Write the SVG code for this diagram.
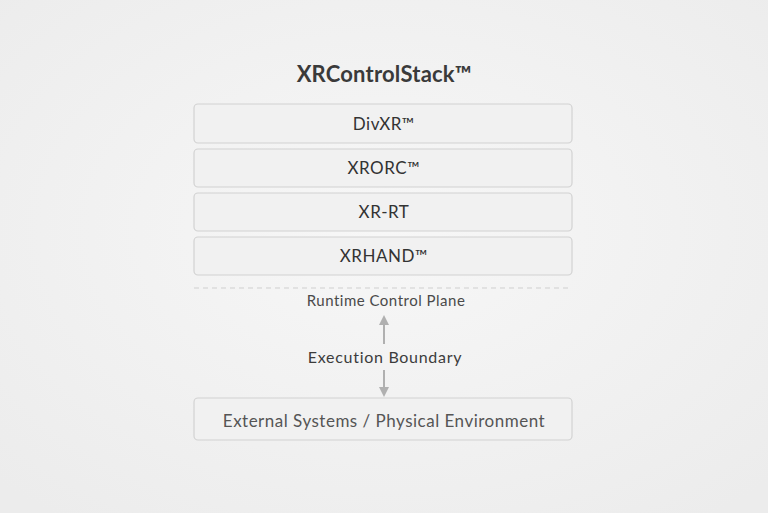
<svg xmlns="http://www.w3.org/2000/svg" width="768" height="513" viewBox="0 0 768 513">
<defs>
<radialGradient id="bg" cx="50%" cy="45%" r="70%">
<stop offset="0" stop-color="#f7f7f7"/>
<stop offset="1" stop-color="#ececec"/>
</radialGradient>
<marker id="ah" viewBox="0 0 10 10" refX="5" refY="5" markerWidth="10" markerHeight="10" orient="auto" markerUnits="userSpaceOnUse">
<path d="M0,0 L10,5 L0,10 Z" fill="#b0b0b0"/>
</marker>
<style>
.box{fill:#f1f1f1;stroke:#d2d2d2;stroke-width:1.2}
.lbl{font-family:Lato,"Noto Sans",sans-serif;font-size:17px;letter-spacing:0.5px;fill:#333;text-anchor:middle}
.sm{font-family:Lato,"Noto Sans",sans-serif;fill:#4a4a4a;text-anchor:middle}
</style>
</defs>
<rect width="768" height="513" fill="url(#bg)"/>
<text x="384" y="82" class="lbl" style="font-size:22px;letter-spacing:0.2px;font-weight:bold;fill:#3a3a3a">XRControlStack™</text>
<g id="divxr"><rect class="box" x="194" y="104" width="378" height="39" rx="4"/><text class="lbl" x="384" y="130">DivXR™</text></g>
<g id="xrorc"><rect class="box" x="194" y="149" width="378" height="38" rx="4"/><text class="lbl" x="384" y="174">XRORC™</text></g>
<g id="xrrt"><rect class="box" x="194" y="193" width="378" height="38" rx="4"/><text class="lbl" x="384" y="218">XR-RT</text></g>
<g id="xrhand"><rect class="box" x="194" y="237" width="378" height="38" rx="4"/><text class="lbl" x="384" y="262">XRHAND™</text></g>
<line x1="194" y1="288" x2="572" y2="288" stroke="#cfcfcf" stroke-width="1" stroke-dasharray="5,4"/>
<text class="sm" x="386" y="306" style="font-size:15px;letter-spacing:0.5px">Runtime Control Plane</text>
<g id="connectors">
<line x1="384" y1="344" x2="384" y2="320" stroke="#b0b0b0" stroke-width="2" marker-end="url(#ah)"/>
<line x1="384" y1="370" x2="384" y2="392" stroke="#b0b0b0" stroke-width="2" marker-end="url(#ah)"/>
</g>
<text class="sm" x="385" y="363" style="font-size:16px;letter-spacing:0.7px;fill:#3c3c3c">Execution Boundary</text>
<g id="external"><rect class="box" x="194" y="398" width="378" height="42" rx="4"/><text class="lbl" x="384" y="427" style="fill:#555">External Systems / Physical Environment</text></g>
</svg>
